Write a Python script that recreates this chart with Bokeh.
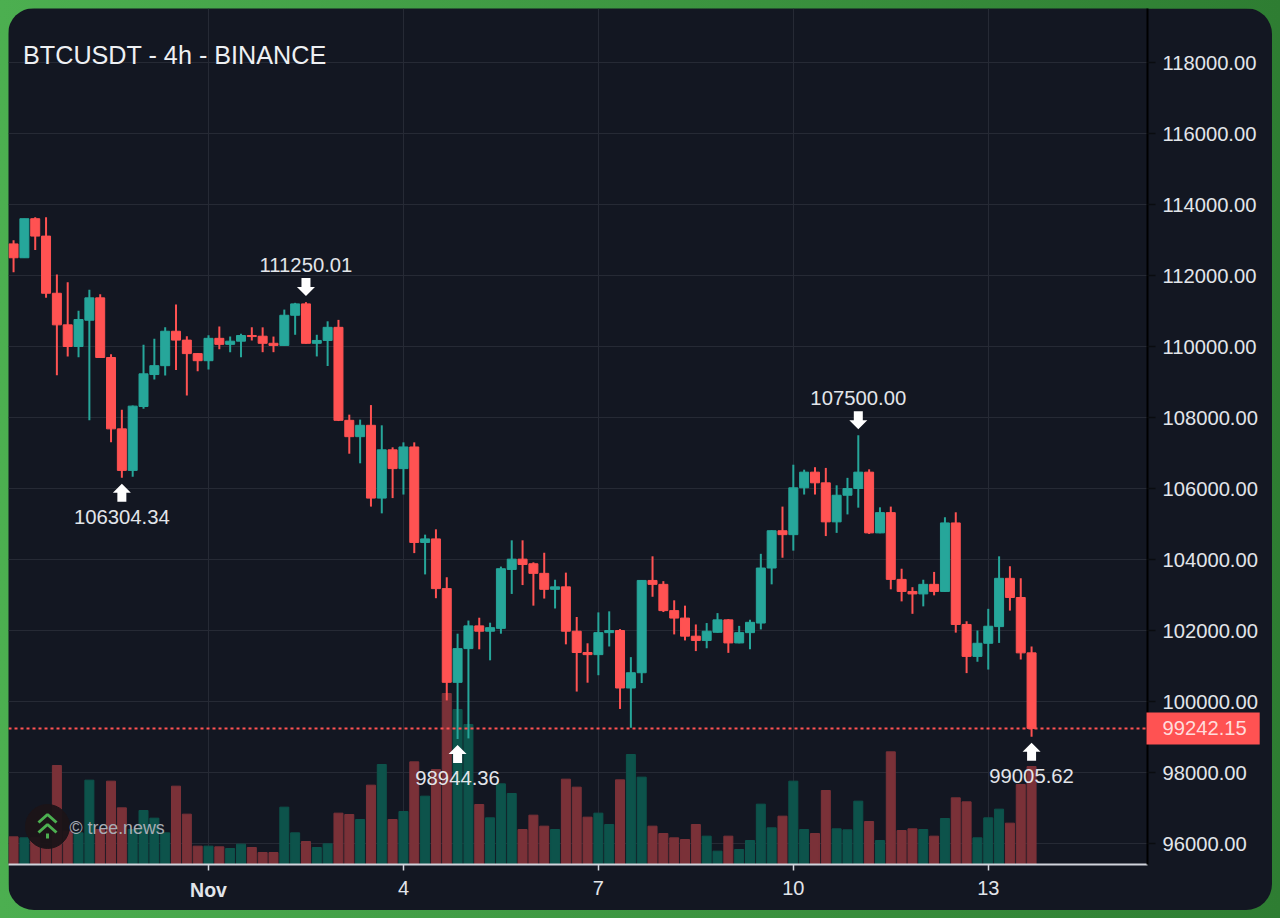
import pandas as pd
from bokeh.embed import file_html
from bokeh.models import FixedTicker, Label, PrintfTickFormatter, Range1d, Span
from bokeh.plotting import figure
from bokeh.resources import INLINE

# 4h свечи BTCUSDT
opens = [112890, 112500, 113600, 113110, 111500, 110610, 110000, 110740, 111370, 109690,
         107680, 106510, 108310, 109210, 109460, 110430, 110180, 109800, 109600, 110230,
         110060, 110150, 110310, 110290, 110090, 110030, 110880, 111200, 110090, 110170,
         110540, 107920, 107460, 107780, 105730, 107090, 106560, 107170, 104480, 104580,
         103180, 100540, 101490, 102130, 101980, 102060, 103720, 104010, 103880, 103610,
         103160, 103230, 101980, 101380, 101320, 101940, 102000, 100380, 100810, 103410,
         103300, 102560, 102350, 101840, 101720, 101950, 102300, 101650, 101940, 102210,
         103760, 104810, 104700, 106020, 106460, 106160, 105060, 105810, 106000, 106460,
         104750, 105320, 103440, 103100, 103030, 103300, 103100, 105030, 102170, 101270,
         101640, 102110, 103470, 102930, 101370]
highs = [112990, 113600, 113640, 113640, 112030, 111810, 111010, 111600, 111470, 109780,
         108220, 108340, 110050, 110220, 110540, 111180, 110290, 109820, 110320, 110560,
         110280, 110360, 110540, 110540, 110280, 111040, 111230, 111250.01, 110330, 110710,
         110750, 108080, 107940, 108350, 107780, 107160, 107300, 107300, 104700, 104850,
         103500, 101910, 102280, 102360, 102220, 103800, 104540, 104540, 103920, 104190,
         103430, 103630, 102380, 101640, 102510, 102540, 102040, 101250, 103420, 104090,
         103390, 102850, 102700, 102170, 102210, 102490, 102320, 102130, 102300, 104160,
         104820, 105490, 106670, 106530, 106600, 106580, 106090, 106300, 107500, 106540,
         105470, 105490, 103740, 103220, 103430, 103650, 105190, 105330, 102260, 102000,
         102610, 104090, 103810, 103470, 101550]
lows = [112090, 112500, 112720, 111370, 109190, 109720, 109700, 107920, 109680, 107300,
        106304.34, 106330, 108250, 109070, 109180, 109340, 108620, 109300, 109350, 109920,
        109840, 109700, 110170, 109840, 109840, 110020, 110330, 110080, 109720, 109450,
        107900, 106980, 106710, 105490, 105300, 105730, 105830, 104180, 103580, 102910,
        100030, 98944.36, 98960, 101470, 101160, 101910, 103030, 103280, 102700, 102900,
        102620, 101610, 100280, 100530, 100740, 101550, 99790, 99260, 100520, 102950,
        102520, 101890, 101720, 101420, 101500, 101940, 101370, 101640, 101470, 102030,
        103300, 104050, 104250, 105830, 105830, 104660, 104750, 105270, 105460, 104720,
        104740, 103160, 102820, 102470, 102680, 102990, 103090, 101940, 100800, 101120,
        100900, 101650, 102560, 101180, 99005.62]
closes = [112500, 113600, 113110, 111500, 110610, 110000, 110760, 111370, 109690, 107680,
          106510, 108320, 109230, 109460, 110430, 110180, 109800, 109600, 110230, 110060,
          110150, 110310, 110280, 110090, 110030, 110880, 111200, 110090, 110170, 110540,
          107920, 107460, 107780, 105730, 107090, 106560, 107170, 104480, 104580, 103180,
          100540, 101490, 102130, 101980, 102080, 103740, 104010, 103860, 103610, 103160,
          103230, 101980, 101380, 101320, 101940, 102000, 100380, 100810, 103410, 103300,
          102560, 102350, 101840, 101720, 101980, 102300, 101650, 101940, 102230, 103760,
          104810, 104700, 106020, 106460, 106160, 105060, 105810, 106000, 106460, 104750,
          105320, 103440, 103100, 103030, 103300, 103100, 105030, 102170, 101270, 101640,
          102120, 103470, 102930, 101370, 99242.15]
volumes = [830, 800, 800, 500, 2970, 1000, 950, 2530, 1050, 2500,
           1700, 1050, 1620, 1390, 950, 2350, 1510, 550, 550, 530,
           480, 610, 510, 360, 360, 1720, 950, 690, 510, 620,
           1540, 1500, 1350, 2380, 3000, 1350, 1590, 3080, 2050, 2850,
           5130, 4650, 4200, 1800, 1400, 2420, 2130, 1050, 1480, 1150,
           1050, 2560, 2320, 1420, 1540, 1200, 2540, 3300, 2620, 1150,
           930, 800, 750, 1200, 850, 400, 850, 450, 720, 1810,
           1100, 1450, 2500, 1050, 930, 2220, 1070, 1040, 1900, 1290,
           720, 3380, 1020, 1070, 1050, 850, 1380, 2000, 1880, 800,
           1400, 1660, 1240, 2400, 2940]

price_ticks = [96000, 98000, 100000, 102000, 104000, 106000, 108000, 110000, 112000, 114000, 116000, 118000]
date_ticks = ["2025-11-01", "2025-11-04", "2025-11-07", "2025-11-10", "2025-11-13"]
date_labels = ["", "4", "7", "10", "13"]
last_price = 99242.15

# свечи с подписями: индекс и тип экстремума
high_marks = [27, 78]
low_marks = [10, 41, 94]

BG = "#131722"
RED = "#ff5252"
GREEN = "#26a69a"
VOL_RED = "#7a3138"
VOL_GREEN = "#0d534b"
TEXT = "#e2e5ea"

STEP = 4 * 3600 * 1000
PX_PER_CANDLE = 10.83
PX_PER_PRICE = 0.0355
nov1 = pd.Timestamp("2025-11-01")
dates = pd.date_range("2025-10-29", periods=len(closes), freq="4h")
times = [d.timestamp() * 1000 for d in dates]
nov1_ms = nov1.timestamp() * 1000
tick_ms = [pd.Timestamp(d).timestamp() * 1000 for d in date_ticks]


def x_at(px):
    # пиксель окна -> время
    return nov1_ms + (px - 208) / PX_PER_CANDLE * STEP


def y_at(py):
    # пиксель окна -> цена
    return 96000 + (843 - py) / PX_PER_PRICE


p = figure(x_axis_type="datetime", y_axis_location="right", width=1264, height=902,
           frame_width=1139, frame_height=856,
           x_range=Range1d(x_at(8), x_at(1147)), y_range=Range1d(y_at(864), y_at(8)),
           output_backend="svg", toolbar_location=None,
           background_fill_color=BG, border_fill_color=BG,
           min_border_left=0, min_border_top=0, min_border_right=0, min_border_bottom=0)
p.outline_line_color = None
p.margin = (8, 8, 8, 8)
p.styles = {"border-radius": "26px", "overflow": "hidden", "width": "1264px", "height": "902px"}

# сетка и оси
p.xgrid.grid_line_color = "#262a35"
p.ygrid.grid_line_color = "#262a35"
p.xgrid.ticker = FixedTicker(ticks=tick_ms)
p.ygrid.ticker = FixedTicker(ticks=price_ticks)

p.xaxis.ticker = FixedTicker(ticks=tick_ms)
p.xaxis.major_label_overrides = dict(zip(tick_ms, date_labels))
p.xaxis.axis_line_color = "#d1d4dc"
p.xaxis.axis_line_width = 2
p.xaxis.major_tick_line_color = "#d1d4dc"
p.xaxis.major_tick_line_width = 1.5
p.xaxis.major_tick_in = 0
p.xaxis.major_tick_out = 6
p.xaxis.minor_tick_line_color = None
p.xaxis.major_label_standoff = 10
p.xaxis.major_label_text_color = TEXT
p.xaxis.major_label_text_font = "Liberation Sans"
p.xaxis.major_label_text_font_size = "20px"

p.yaxis.ticker = FixedTicker(ticks=price_ticks)
p.yaxis.formatter = PrintfTickFormatter(format="%.2f")
p.yaxis.axis_line_color = "#000000"
p.yaxis.axis_line_width = 2
p.yaxis.major_tick_line_color = "#0a0c10"
p.yaxis.major_tick_line_width = 1.5
p.yaxis.major_tick_in = 0
p.yaxis.major_tick_out = 8
p.yaxis.minor_tick_line_color = None
p.yaxis.major_label_standoff = 7
p.yaxis.major_label_text_color = TEXT
p.yaxis.major_label_text_font = "Liberation Sans"
p.yaxis.major_label_text_font_size = "20.2px"

# объёмы на своей шкале, снизу
p.extra_y_ranges = {"vol": Range1d(0, 25680)}
vol_colors = [VOL_GREEN if c > o else VOL_RED for o, c in zip(opens, closes)]
p.vbar(x=times, top=volumes, bottom=0, width=STEP * 0.83, color=vol_colors, y_range_name="vol")

# свечи
colors = [GREEN if c > o else RED for o, c in zip(opens, closes)]
p.segment(x0=times, y0=lows, x1=times, y1=highs, color=colors, line_width=2)
p.vbar(x=times, top=[max(o, c) for o, c in zip(opens, closes)],
       bottom=[min(o, c) for o, c in zip(opens, closes)],
       width=STEP * 0.83, color=colors)

# последняя цена, подпись в полосе оси (координаты холста: окно минус 8 px)
# аннотации вне рамки обрезаются, поэтому они на боковых панелях
last_y = 843 - (last_price - 96000) * PX_PER_PRICE - 8
p.add_layout(Span(location=last_price, dimension="width", line_color=RED, line_width=2, line_dash=[3, 3]))
p.add_layout(Label(x=1138, y=last_y, x_units="canvas", y_units="canvas", text=f"{last_price:.2f}",
                   text_color="#ffdcdc", text_font="Liberation Sans", text_font_size="20.2px",
                   text_baseline="middle", background_fill_color=RED, padding=(16, 13, 9, 9)), "right")


def arrow(x, tip, direction):
    # стрелка 18 px от острия, direction=1 вверх, -1 вниз
    dx = STEP / PX_PER_CANDLE
    dy = direction / PX_PER_PRICE
    xs = [x, x + 9 * dx, x + 4.5 * dx, x + 4.5 * dx, x - 4.5 * dx, x - 4.5 * dx, x - 9 * dx]
    ys = [tip, tip - 9 * dy, tip - 9 * dy, tip - 18 * dy, tip - 18 * dy, tip - 9 * dy, tip - 9 * dy]
    return xs, ys


mark_xs, mark_ys, mark_tx, mark_ty, mark_text = [], [], [], [], []
for i in high_marks:
    xs, ys = arrow(times[i], highs[i] + 6 / PX_PER_PRICE, -1)
    mark_xs.append(xs)
    mark_ys.append(ys)
    mark_tx.append(times[i])
    mark_ty.append(highs[i] + 37 / PX_PER_PRICE)
    mark_text.append(f"{highs[i]:.2f}")
for i in low_marks:
    xs, ys = arrow(times[i], lows[i] - 6 / PX_PER_PRICE, 1)
    mark_xs.append(xs)
    mark_ys.append(ys)
    mark_tx.append(times[i])
    mark_ty.append(lows[i] - 39 / PX_PER_PRICE)
    mark_text.append(f"{lows[i]:.2f}")
p.patches(mark_xs, mark_ys, color="#ffffff", line_width=0)
p.text(mark_tx, mark_ty, text=mark_text, text_align="center", text_baseline="middle",
       text_color=TEXT, text_font={"value": "Liberation Sans"}, text_font_size="20.3px")

# логотип
p.scatter([x_at(47)], [y_at(826)], size=44, color="#1b1418", alpha=0.95)
p.multi_line([[x_at(38), x_at(47), x_at(56)], [x_at(38), x_at(47), x_at(56)], [x_at(47), x_at(47)]],
             [[y_at(822), y_at(814), y_at(822)], [y_at(832), y_at(824), y_at(832)], [y_at(833), y_at(838)]],
             color="#4caf50", line_width=3)
p.add_layout(Label(x=x_at(69), y=y_at(827), text="© tree.news", text_color="#a9adb5",
                   text_font="Liberation Sans", text_font_size="17.8px", text_baseline="middle"))

# заголовок и жирная подпись месяца
p.add_layout(Label(x=x_at(22.5), y=y_at(54), text="BTCUSDT - 4h - BINANCE", text_color="#eef0f3",
                   text_font="Liberation Sans", text_font_size="25.2px", text_baseline="middle"))
p.add_layout(Label(x=200, y=881, x_units="canvas", y_units="canvas", text="Nov", text_color=TEXT,
                   text_align="center", text_font="Liberation Sans", text_font_size="19.5px",
                   text_font_style="bold", text_baseline="middle"), "below")

html = file_html(p, INLINE)
# зелёная рамка вокруг карточки: фон страницы
html = html.replace("<head>", "<head><style>html{background:linear-gradient(90deg,#4caf50,#2e7d32)}</style>", 1)
open("out.html", "w").write(html)
